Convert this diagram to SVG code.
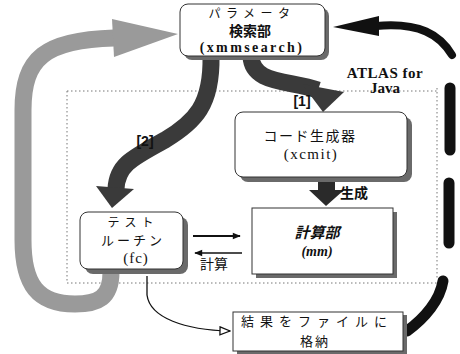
<svg xmlns="http://www.w3.org/2000/svg" width="460" height="354" viewBox="0 0 460 354">
<defs>
<style>
.box{fill:#fff;stroke:#333;stroke-width:1}
.sh{fill:#6a6a6a}
.jp{font-family:"Noto Sans CJK JP","Noto Sans",sans-serif;fill:#111;text-anchor:middle}
.en{font-family:"Liberation Serif",serif;font-weight:bold;fill:#111;text-anchor:middle}
.enn{font-family:"Liberation Serif",serif;font-weight:normal;fill:#111;text-anchor:middle}
.dot{fill:none;stroke:#777;stroke-width:1;stroke-dasharray:1.5 2.5}
.dark{fill:none;stroke:#3a3a3a;stroke-width:17}
.blk{fill:none;stroke:#111;stroke-linecap:round}
.thin{fill:none;stroke:#111;stroke-width:1.3}
</style>
<marker id="open" viewBox="0 0 12 10" refX="11" refY="5" markerWidth="12" markerHeight="10" markerUnits="userSpaceOnUse" orient="auto">
<path d="M1,1 L11,5 L1,9 Z" fill="#fff" stroke="#111" stroke-width="1.3"/>
</marker>
<marker id="ah" viewBox="0 0 10 10" refX="9" refY="5" markerWidth="9" markerHeight="8" markerUnits="userSpaceOnUse" orient="auto">
<path d="M0,1 L10,5 L0,9 Z" fill="#111"/>
</marker>
</defs>

<g id="region">
<path class="dot" d="M67,91 L437,91 M67,91 L67,283 M437,88 L437,280 M67,283 L437,283"/>
<text class="en" x="385" y="78" font-size="15" letter-spacing="0.5">ATLAS for</text>
<text class="en" x="385" y="93" font-size="15">Java</text>
</g>

<g id="connectors">
<path d="M111,272 C111,298 98,304 75,304 C38,304 23,285 23,240 L23,110 C23,58 45,40 114,38" fill="none" stroke="#9a9a9a" stroke-width="17"/>
<polygon points="112,19 178,34 114,57" fill="#9a9a9a"/>
<path class="dark" d="M251,56 C252,84 288,80 318,90"/>
<polygon points="302,84 344,92 323,112" fill="#3a3a3a"/>
<text x="302" y="106" font-family="Liberation Sans,sans-serif" font-weight="bold" font-size="14" fill="#111" text-anchor="middle">[1]</text>
<path class="dark" d="M211,56 C212,105 195,122 165,140 C132,158 117,165 116,189"/>
<polygon points="96,186 134,189 112,208" fill="#3a3a3a"/>
<text x="145" y="146" font-family="Liberation Sans,sans-serif" font-weight="bold" font-size="14" fill="#111" text-anchor="middle">[2]</text>
<rect x="318" y="180" width="17" height="12" fill="#2a2a2a"/>
<polygon points="309,190 344,190 326,206" fill="#2a2a2a"/>
<text class="jp" x="354" y="198" font-size="14" font-weight="bold">生成</text>
<line x1="193" y1="236" x2="240" y2="236" stroke="#111" stroke-width="1.8" marker-end="url(#ah)"/>
<line x1="242" y1="253" x2="195" y2="253" stroke="#111" stroke-width="1.5" marker-end="url(#ah)"/>
<text class="jp" x="214" y="269" font-size="14">計算</text>
<path class="thin" d="M147,276 L147,295 C150,318 185,330 230,331" marker-end="url(#open)"/>
<path class="blk" d="M407,331 C425,318 440,300 443,281" stroke-width="11"/>
<path class="blk" d="M449,183 L449,243" stroke-width="11"/>
<path class="blk" d="M450,88 L450,150" stroke-width="11"/>
<path class="blk" d="M376,26 C420,22 440,35 452,55" stroke-width="8"/>
<polygon points="333,27 379,16 379,36" fill="#111"/>
</g>

<g id="param">
<rect class="sh" x="184" y="8" width="145" height="52" rx="8"/>
<rect class="box" x="180" y="4" width="145" height="52" rx="8"/>
<text class="jp" x="252" y="18" font-size="12" letter-spacing="5.5">パラメータ</text>
<text class="jp" x="250" y="36" font-size="14" font-weight="bold">検索部</text>
<text class="en" x="252" y="52" font-size="14" letter-spacing="2.4">(xmmsearch)</text>
</g>

<g id="codegen">
<rect class="sh" x="240" y="117" width="172" height="65" rx="8"/>
<rect class="box" x="235" y="112" width="172" height="65" rx="8"/>
<text class="jp" x="310" y="141" font-size="14" letter-spacing="1.5">コード生成器</text>
<text class="enn" x="311" y="159" font-size="15" letter-spacing="1.5">(xcmit)</text>
</g>

<g id="calc">
<rect class="sh" x="256" y="212" width="141" height="66"/>
<rect class="box" x="252" y="208" width="141" height="66"/>
<text class="jp" x="317" y="238" font-size="15" font-style="italic" font-weight="bold">計算部</text>
<text class="en" x="317" y="256" font-size="14" font-style="italic">(mm)</text>
</g>

<g id="test">
<rect class="sh" x="85" y="217" width="103" height="57" rx="8"/>
<rect class="box" x="80" y="212" width="103" height="57" rx="8"/>
<text class="jp" x="133" y="227" font-size="12" letter-spacing="5">テスト</text>
<text class="jp" x="133" y="245" font-size="13" letter-spacing="3">ルーチン</text>
<text class="enn" x="136" y="263" font-size="15" letter-spacing="1">(fc)</text>
</g>

<g id="result">
<rect class="sh" x="237" y="315" width="170" height="39"/>
<rect class="box" x="233" y="312" width="170" height="39"/>
<text class="jp" x="317" y="326" font-size="13" letter-spacing="6">結果をファイルに</text>
<text class="jp" x="315" y="346" font-size="13" letter-spacing="2">格納</text>
</g>
</svg>
